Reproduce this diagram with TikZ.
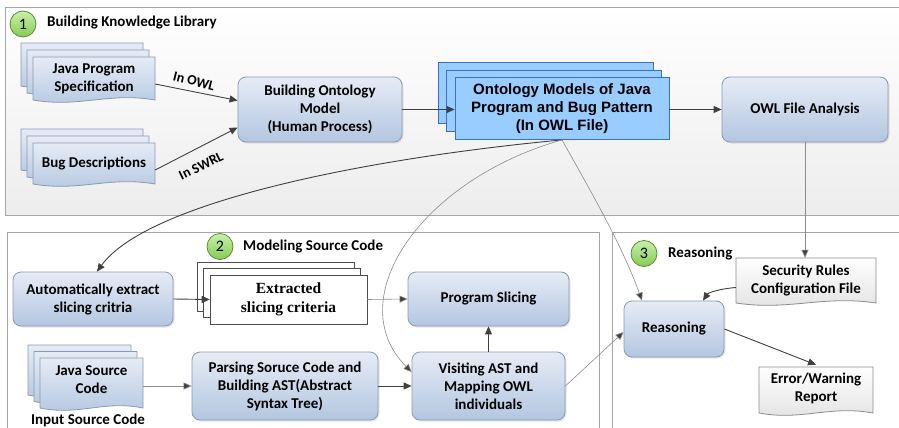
\documentclass[tikz,border=0pt]{standalone}
\usepackage{fontspec}
\setmainfont{Carlito}
\newfontfamily\arialf{Liberation Sans}
\newfontfamily\timesf{Liberation Serif}
\usetikzlibrary{arrows.meta,shadows,calc}
\definecolor{boxtop}{HTML}{E6ECF6}
\definecolor{boxbot}{HTML}{B3C6E0}
\definecolor{boxline}{HTML}{8A9AB2}
\definecolor{owlfill}{HTML}{99CCFF}
\definecolor{owlline}{HTML}{3A6FC4}
\definecolor{arrowc}{HTML}{404040}
\definecolor{thinc}{HTML}{8C8C8C}
\definecolor{panelline}{HTML}{A6A6A6}
\definecolor{greentop}{HTML}{C8F0A8}
\definecolor{greenbot}{HTML}{86CC55}
\definecolor{greenline}{HTML}{5E8E38}
\definecolor{doctop}{HTML}{FFFFFF}
\definecolor{docbot}{HTML}{E2E2E2}
\newcommand\docpath[5]{(#1,#2) -- (#3,#2) -- (#3,#4) .. controls ({#1+0.62*(#3-#1)},{#4-2*#5}) and ({#1+0.38*(#3-#1)},{#4+2*#5}) .. (#1,#4) -- cycle}
\tikzset{
  txt/.style={font=\bfseries\fontsize{15}{18}\selectfont, align=center},
  procbox/.style={txt, rounded corners=8pt, draw=boxline, line width=0.8pt, top color=boxtop, bottom color=boxbot, inner sep=2pt,
    drop shadow={opacity=0.2, shadow xshift=1.5pt, shadow yshift=-1.5pt}},
  bluedoc/.style={draw=boxline, line width=0.8pt, top color=boxtop, bottom color=boxbot},
  graydoc/.style={draw=thinc, line width=0.8pt, top color=doctop, bottom color=docbot},
  owlrect/.style={draw=owlline, line width=0.8pt, fill=owlfill},
  extrect/.style={draw=black!70, line width=0.6pt, fill=white},
  doctext/.style={txt, inner sep=0pt},
  panel/.style={draw=panelline, line width=0.8pt},
  numc/.style={circle, draw=greenline, line width=0.8pt, top color=greentop, bottom color=greenbot, minimum size=26pt, inner sep=0pt, font=\fontsize{16}{16}\selectfont},
  title/.style={font=\bfseries\fontsize{15}{17}\selectfont, anchor=west, inner sep=0pt},
  darr/.style={draw=arrowc, line width=0.9pt, -{Triangle[length=8pt,width=7pt]}},
  tarr/.style={draw=thinc, line width=0.6pt, -{Triangle[length=8pt,width=7pt,fill=arrowc]}},
  lbl/.style={font=\bfseries\fontsize{14}{16}\selectfont, inner sep=0pt}
}
\begin{document}
\begin{tikzpicture}[x=1pt,y=-1pt]
\useasboundingbox (0,0) rectangle (899,428);
\clip (0,0) rectangle (899,428);
% panels
\path[panel, top color=white, bottom color=black!7] (5,7) rectangle (910,215);
\path[panel, fill=white] (7,232) rectangle (599,440);
\path[panel, fill=white] (612,232) rectangle (910,440);
% titles
\node[numc] (n1) at (23,24) {1};
\node[title] (t1) at (47,23) {Building Knowledge Library};
\node[numc] (n2) at (220,246.5) {2};
\node[title] (t2) at (243,247) {Modeling Source Code};
\node[numc] (n3) at (644,253.5) {3};
\node[title] (t3) at (668,254) {Reasoning};
% Java Program Specification (stacked doc)
\path[bluedoc] \docpath{21}{43}{143}{86}{4};
\path[bluedoc] \docpath{27}{50}{149}{93}{4};
\path[bluedoc] \docpath{33}{57}{155}{100}{4};
\node[doctext, minimum width=122pt, minimum height=43pt] (jps) at (94,78.5) {Java Program\\Specification};
% Bug Descriptions
\path[bluedoc] \docpath{21}{129}{143}{170}{4};
\path[bluedoc] \docpath{27}{136}{149}{177}{4};
\path[bluedoc] \docpath{33}{143}{155}{184}{4};
\node[doctext, minimum width=122pt, minimum height=41pt] (bug) at (94,163.5) {Bug Descriptions};
% Building Ontology Model
\node[procbox, minimum width=164pt, minimum height=65pt] (bom) at (320,109.5) {Building Ontology\\Model\\(Human Process)};
% Ontology Models (stacked)
\path[owlrect] (438,62) rectangle (653,123);
\path[owlrect] (446,70) rectangle (661,131);
\node[owlrect, minimum width=214pt, minimum height=62pt, inner sep=0pt, align=center,
  font=\arialf\bfseries\fontsize{15}{18}\selectfont] (onto) at (562,108.5) {Ontology Models of Java\\Program and Bug Pattern\\(In OWL File)};
% OWL File Analysis
\node[procbox, minimum width=166pt, minimum height=65pt] (owl) at (805,109.5) {OWL File Analysis};
% Automatically extract
\node[procbox, minimum width=160pt, minimum height=54pt] (auto) at (93,299) {Automatically extract\\slicing critria};
% Extracted slicing criteria
\path[extrect] (197,262) rectangle (354,311);
\path[extrect] (203.5,268.5) rectangle (360.5,317.5);
\node[extrect, minimum width=157pt, minimum height=49pt, inner sep=0pt, align=center,
  font=\timesf\bfseries\fontsize{15.5}{19}\selectfont] (ext) at (288.5,299.5) {Extracted\\slicing criteria};
% Program Slicing
\node[procbox, minimum width=161pt, minimum height=54pt] (ps) at (488.5,299) {Program Slicing};
% Java Source Code
\path[bluedoc] \docpath{28}{345}{131}{395}{4};
\path[bluedoc] \docpath{34}{351.5}{137}{401.5}{4};
\path[bluedoc] \docpath{40}{358}{143}{408}{4};
\node[doctext, minimum width=103pt, minimum height=50pt] (jsc) at (91.5,380) {Java Source\\Code};
\node[title, anchor=center] (inp) at (88,420) {Input Source Code};
% Parsing
\node[procbox, minimum width=186pt, minimum height=68pt] (par) at (285,386) {Parsing Soruce Code and\\Building AST(Abstract\\Syntax Tree)};
% Visiting
\node[procbox, minimum width=153pt, minimum height=68pt] (vis) at (488.5,386) {Visiting AST and\\Mapping OWL\\individuals};
% Security Rules doc
\path[graydoc] \docpath{736}{258}{876}{303}{4};
\node[doctext, minimum width=140pt, minimum height=45pt] (sec) at (806,280.5) {Security Rules\\Configuration File};
% Reasoning
\node[procbox, minimum width=100pt, minimum height=56pt] (rea) at (674,329) {Reasoning};
% Error report
\path[graydoc] \docpath{759}{367}{873}{413}{4};
\node[doctext, minimum width=114pt, minimum height=46pt] (err) at (816,388) {Error/Warning\\Report};
% connectors
\draw[darr] ($(jps.east)+(0,5.5)$) -- ($(bom.west)+(0,-9)$);
\node[lbl, rotate=-14] (lowl) at (194,81) {In OWL};
\draw[darr] ($(bug.east)+(0,6.5)$) -- ($(bom.west)+(0,18)$);
\node[lbl, rotate=26] (lswrl) at (201,166) {In SWRL};
\draw[darr] (bom.east) -- (onto.west |- bom.east);
\draw[darr] (onto.east |- owl.west) -- (owl.west);
\draw[tarr] (owl.south) -- (owl.south |- sec.north);
\draw[darr] ($(sec.west)+(0,7)$) .. controls (718,289) and (708,293) .. ($(rea.north)+(29,0)$);
\draw[darr] (rea.east) -- (err.north);
\draw[tarr] (vis.east) -- ($(rea.west)+(0,3)$);
\draw[tarr] (onto.south) .. controls (590,190) and (622,245) .. ($(rea.north)+(-32,0)$);
\draw[darr] (onto.south) .. controls (350,160) and (145,205) .. ($(auto.north)+(4,0)$);
\draw[tarr] (onto.south) .. controls (420,180) and (340,300) .. ($(vis.west)+(0,-14)$);
\draw[darr] (auto.east) -- (ext.west);
\draw[tarr] (ext.east) -- (ps.west);
\draw[tarr] (jsc.east |- par.west) -- (par.west);
\draw[darr] (par.east) -- (vis.west);
\draw[darr] (vis.north) -- (ps.south);
\end{tikzpicture}
\end{document}
